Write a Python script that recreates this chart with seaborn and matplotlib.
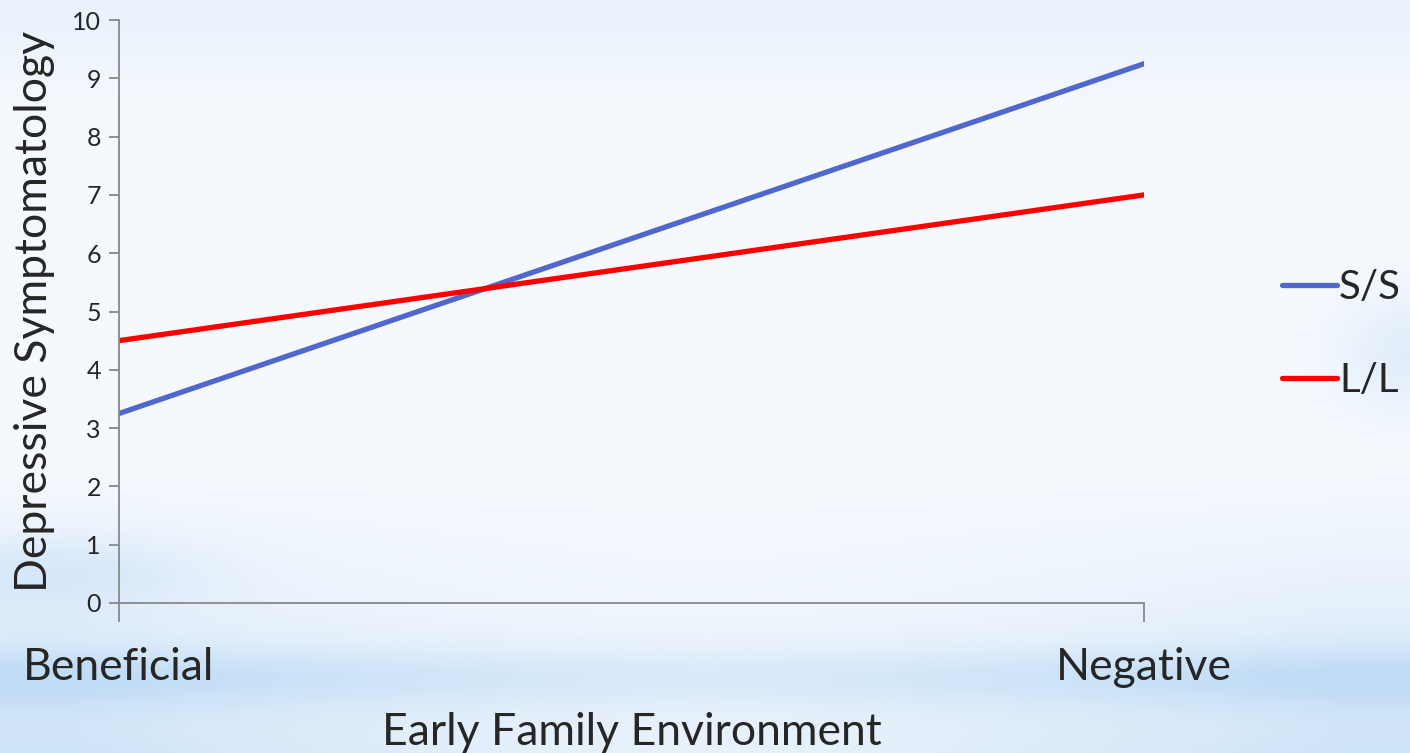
import numpy as np
import pandas as pd
import matplotlib
matplotlib.use("Agg")
import matplotlib.pyplot as plt
from matplotlib.colors import to_rgb
import seaborn as sns

# Data
environments = ["Beneficial", "Negative"]
genotypes = ["S/S", "L/L"]
ss_values = [3.25, 9.25]
ll_values = [4.5, 7.0]
y_ticks = [0, 1, 2, 3, 4, 5, 6, 7, 8, 9, 10]

df = pd.DataFrame({
    "Environment": environments * 2,
    "Genotype": [genotypes[0]] * 2 + [genotypes[1]] * 2,
    "Score": ss_values + ll_values,
})
df["pos"] = df["Environment"].map({e: i for i, e in enumerate(environments)})

sns.set_theme(style="white")
plt.rcParams["font.family"] = ["Lato", "DejaVu Sans"]

fig = plt.figure(figsize=(14.1, 7.53), dpi=100)

# soft blue slide background: pale top, hazy blue streaks toward the bottom
H, W = 753, 1410
yy = np.linspace(0, 1, H)[:, None]
xx = np.linspace(0, 1, W)[None, :]
light = np.array(to_rgb("#f6f9fe"))
blue = np.array(to_rgb("#bcdaf5"))
edge = 0.35 + 0.65 * np.clip(np.abs(xx - 0.5) * 2.2, 0, 1) ** 1.5
lower = np.clip((yy - 0.60) / 0.40, 0, 1) ** 1.3
streaks = (0.35 * np.exp(-((yy - 0.76) / 0.05) ** 2) * np.exp(-((xx - 0.04) / 0.10) ** 2)
           + 0.50 * np.exp(-((yy - 0.90) / 0.04) ** 2) * (0.5 + 0.5 * edge)
           + 0.35 * np.exp(-((yy - 0.47) / 0.08) ** 2) * np.exp(-((xx - 1.0) / 0.05) ** 2)
           + 0.20 * np.exp(-((yy - 0.02) / 0.08) ** 2))
weight = np.clip(0.7 * lower * edge + streaks, 0, 0.9)[..., None]
bg = light * (1 - weight) + blue * weight
bg_ax = fig.add_axes([0, 0, 1, 1], zorder=-10)
bg_ax.imshow(bg, aspect="auto", extent=[0, 1, 0, 1], origin="upper")
bg_ax.axis("off")

ax = fig.add_axes([119 / 1410, 1 - 603 / 753, (1144 - 119) / 1410, (603 - 20) / 753])
ax.patch.set_alpha(0)

palette = {"S/S": "#5068cc", "L/L": "#ff0000"}
sns.lineplot(data=df, x="pos", y="Score", hue="Genotype", hue_order=genotypes,
             palette=palette, linewidth=3.8, ax=ax, legend=False,
             solid_capstyle="round")

ax.set_xlim(0, 1)
ax.set_ylim(0, 10)
ax.set_yticks(y_ticks)
ax.set_xticks(range(len(environments)))
ax.set_xticklabels(environments, fontsize=32)
ax.tick_params(axis="y", labelsize=18, length=7, width=1.3, color="#888888",
               direction="out", left=True, pad=6)
ax.tick_params(axis="x", length=14, width=1.3, color="#888888",
               direction="out", bottom=True, pad=18)
for side in ["top", "right"]:
    ax.spines[side].set_visible(False)
for side in ["left", "bottom"]:
    ax.spines[side].set_color("#888888")
    ax.spines[side].set_linewidth(1.3)

ax.set_xlabel("Early Family Environment", fontsize=32, labelpad=17)
ax.set_ylabel("Depressive Symptomatology", fontsize=32, labelpad=12)

handles = [plt.Line2D([], [], color=palette[g], linewidth=3.8, solid_capstyle="round")
           for g in genotypes]
fig.legend(handles, genotypes, loc="center left", bbox_to_anchor=(1262 / 1410, 1 - 334 / 753),
           frameon=False, fontsize=29, handlelength=1.35, handletextpad=0.06,
           labelspacing=1.4, borderpad=0)

fig.savefig("out.png", dpi=100)
